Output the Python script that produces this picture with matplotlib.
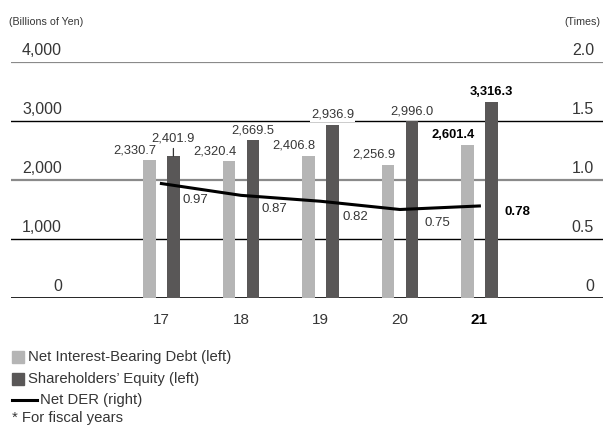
import numpy as np
import matplotlib
matplotlib.use("Agg")
import matplotlib.pyplot as plt
from matplotlib.patches import Rectangle
from matplotlib.lines import Line2D

# =========================================================
# DATA
# =========================================================
years = ["17", "18", "19", "20", "21"]
net_debt = [2330.7, 2320.4, 2406.8, 2256.9, 2601.4]
equity = [2401.9, 2669.5, 2936.9, 2996.0, 3316.3]
net_der = [0.97, 0.87, 0.82, 0.75, 0.78]

left_ticks = [0, 1000, 2000, 3000, 4000]
left_tick_labels = ["0", "1,000", "2,000", "3,000", "4,000"]
right_tick_labels = ["0", "0.5", "1.0", "1.5", "2.0"]

legend_labels = ["Net Interest-Bearing Debt (left)", "Shareholders\u2019 Equity (left)", "Net DER (right)"]

# =========================================================
# STYLE
# =========================================================
plt.rcParams["font.family"] = ["Liberation Sans", "DejaVu Sans"]
TEXT = "#363636"
LIGHT = "#b5b5b5"
DARK = "#595757"

W, H = 605, 425
fig = plt.figure(figsize=(W / 100, H / 100), dpi=100)


def fx(px):
    return px / W


def fy(py):
    return 1 - py / H


# axes in pixel terms: x 11..603, y 62..298
ax = fig.add_axes([fx(11), fy(298), fx(603) - fx(11), fy(62) - fy(298)])
ax2 = ax.twinx()

x = np.arange(len(years))
ax.set_xlim(-1.892, 5.555)
ax.set_ylim(0, 4000)
ax2.set_ylim(0, 2.0)

for a in (ax, ax2):
    for s in a.spines.values():
        s.set_visible(False)
    a.set_xticks([])
    a.set_yticks([])

# gridlines (alternating gray / black)
grid_colors = ["black", "black", "#8a8a8a", "black", "#8a8a8a"]
grid_widths = [1.2, 1.0, 1.6, 1.0, 1.6]
for v, c, lw in zip(left_ticks, grid_colors, grid_widths):
    ax.axhline(v, color=c, lw=lw, zorder=1)

for v, lab, rlab in zip(left_ticks, left_tick_labels, right_tick_labels):
    ax.text(0.086, v + 60, lab, transform=ax.get_yaxis_transform(),
            ha="right", va="bottom", fontsize=11.5, color=TEXT)
    ax.text(0.985, v + 60, rlab, transform=ax.get_yaxis_transform(),
            ha="right", va="bottom", fontsize=11.5, color=TEXT)

# bars
off = 0.151
bw = 0.16
ax.bar(x - off, net_debt, width=bw, color=LIGHT, zorder=2)
ax.bar(x + off, equity, width=bw, color=DARK, zorder=2)

# bar labels
for i, (d, e) in enumerate(zip(net_debt, equity)):
    last = i == len(years) - 1
    wt = "bold" if last else "normal"
    col = "black" if last else TEXT
    ax.annotate(f"{d:,.1f}", (x[i] - off + bw / 2, d), xytext=(1, 4),
                textcoords="offset pixels", ha="right", va="bottom",
                fontsize=9.3, fontweight=wt, color=col, zorder=4)
    if i == 0:
        ax.annotate(f"{e:,.1f}", (x[i] + off, e), xytext=(0, 12),
                    textcoords="offset pixels", ha="center", va="bottom",
                    fontsize=9.3, color=TEXT, zorder=4,
                    arrowprops=dict(arrowstyle="-", color=TEXT, lw=0.9,
                                    shrinkA=1, shrinkB=0))
    else:
        ax.annotate(f"{e:,.1f}", (x[i] + off, e), xytext=(0, 4),
                    textcoords="offset pixels", ha="center", va="bottom",
                    fontsize=9.3, fontweight=wt, color=col, zorder=4,
                    bbox=dict(boxstyle="square,pad=0.1", fc="white", ec="none"))

# Net DER line
ax2.plot(x, net_der, color="black", lw=2.2, zorder=5)
der_offsets = [(34, -16), (33, -14), (35, -16), (37, -13), (38, -6)]
for i, (v, o) in enumerate(zip(net_der, der_offsets)):
    last = i == len(years) - 1
    ax2.annotate(f"{v:.2f}", (x[i], v), xytext=o, textcoords="offset pixels",
                 ha="center", va="center", fontsize=9.5,
                 fontweight="bold" if last else "normal",
                 color="black" if last else TEXT, zorder=6)

# year labels
for i, yr in enumerate(years):
    last = i == len(years) - 1
    ax.text(x[i], -370, yr, ha="center", va="center", fontsize=11,
            fontweight="bold" if last else "normal",
            color="black" if last else TEXT, clip_on=False)

# unit labels
fig.text(fx(9), fy(22), "(Billions of Yen)", ha="left", va="center", fontsize=7.7, color=TEXT)
fig.text(fx(600), fy(22), "(Times)", ha="right", va="center", fontsize=7.7, color=TEXT)

# legend
sq = 12
fig.patches.append(Rectangle((fx(12), fy(357 + sq / 2)), sq / W, sq / H,
                             transform=fig.transFigure, color=LIGHT))
fig.patches.append(Rectangle((fx(12), fy(379 + sq / 2)), sq / W, sq / H,
                             transform=fig.transFigure, color=DARK))
fig.lines.append(Line2D([fx(12), fx(37)], [fy(400), fy(400)],
                        transform=fig.transFigure, color="black", lw=2.2))
fig.text(fx(28), fy(357), legend_labels[0], ha="left", va="center", fontsize=10.7, color=TEXT)
fig.text(fx(28), fy(379), legend_labels[1], ha="left", va="center", fontsize=10.7, color=TEXT)
fig.text(fx(40), fy(400), legend_labels[2], ha="left", va="center", fontsize=10.7, color=TEXT)
fig.text(fx(12), fy(418), "* For fiscal years", ha="left", va="center", fontsize=10.7, color=TEXT)

fig.savefig("out.png", dpi=100)
